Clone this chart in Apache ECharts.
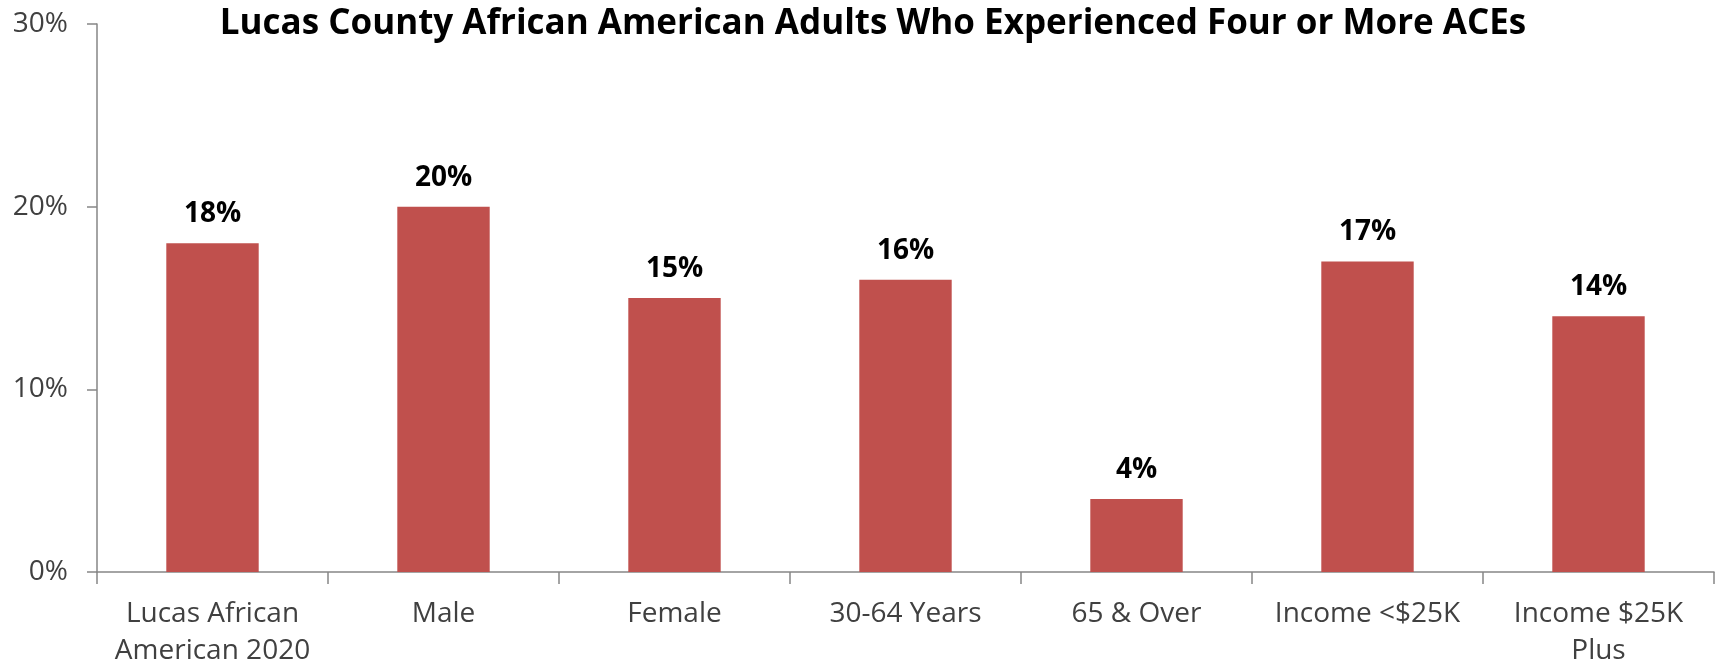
<!DOCTYPE html>
<html>
<head>
<meta charset="utf-8">
<script src="https://cdn.jsdelivr.net/npm/echarts@6/dist/echarts.min.js"></script>
<style>
  html, body { margin: 0; padding: 0; background: #fff; }
  #chart { width: 1718px; height: 663px; }
</style>
</head>
<body>
<div id="chart"></div>
<script>
const titleText = 'Lucas County African American Adults Who Experienced Four or More ACEs'
const categories = [
  'Lucas African\nAmerican 2020',
  'Male',
  'Female',
  '30-64 Years',
  '65 & Over',
  'Income <$25K',
  'Income $25K\nPlus',
]
const values = [18, 20, 15, 16, 4, 17, 14]
const yTicks = { min: 0, max: 30, interval: 10 }

const chart = echarts.init(document.getElementById('chart'))

const option = {
  animation: false,
  textStyle: { fontFamily: 'Open Sans' },
  title: {
    text: titleText,
    left: 868,
    textAlign: 'center',
    top: 2,
    textStyle: { fontFamily: 'Open Sans', fontWeight: 'bold', fontSize: 35, color: '#000' },
  },
  grid: { left: 97, right: 4, top: 24, bottom: 91, containLabel: false, outerBoundsMode: 'none' },
  xAxis: {
    type: 'category',
    data: categories,
    axisLine: { lineStyle: { color: '#868686', width: 1.5 } },
    axisTick: { show: true, length: 12, lineStyle: { color: '#868686', width: 1.5 } },
    axisLabel: { color: '#404040', fontSize: 28, lineHeight: 37, margin: 24, interval: 0 },
  },
  yAxis: {
    type: 'value',
    min: yTicks.min,
    max: yTicks.max,
    interval: yTicks.interval,
    axisLine: { show: true, lineStyle: { color: '#868686', width: 1.5 } },
    axisTick: { show: true, length: 10, lineStyle: { color: '#868686', width: 1.5 } },
    axisLabel: { color: '#404040', fontSize: 28, margin: 29, formatter: '{value}%' },
    splitLine: { show: false },
  },
  series: [
    {
      type: 'bar',
      data: values,
      barCategoryGap: '60%',
      itemStyle: { color: '#C0504D' },
      label: {
        show: true,
        position: 'top',
        distance: 15,
        formatter: '{c}%',
        fontWeight: 'bold',
        fontSize: 28,
        color: '#000',
      },
    },
  ],
}

chart.setOption(option)
</script>
</body>
</html>
